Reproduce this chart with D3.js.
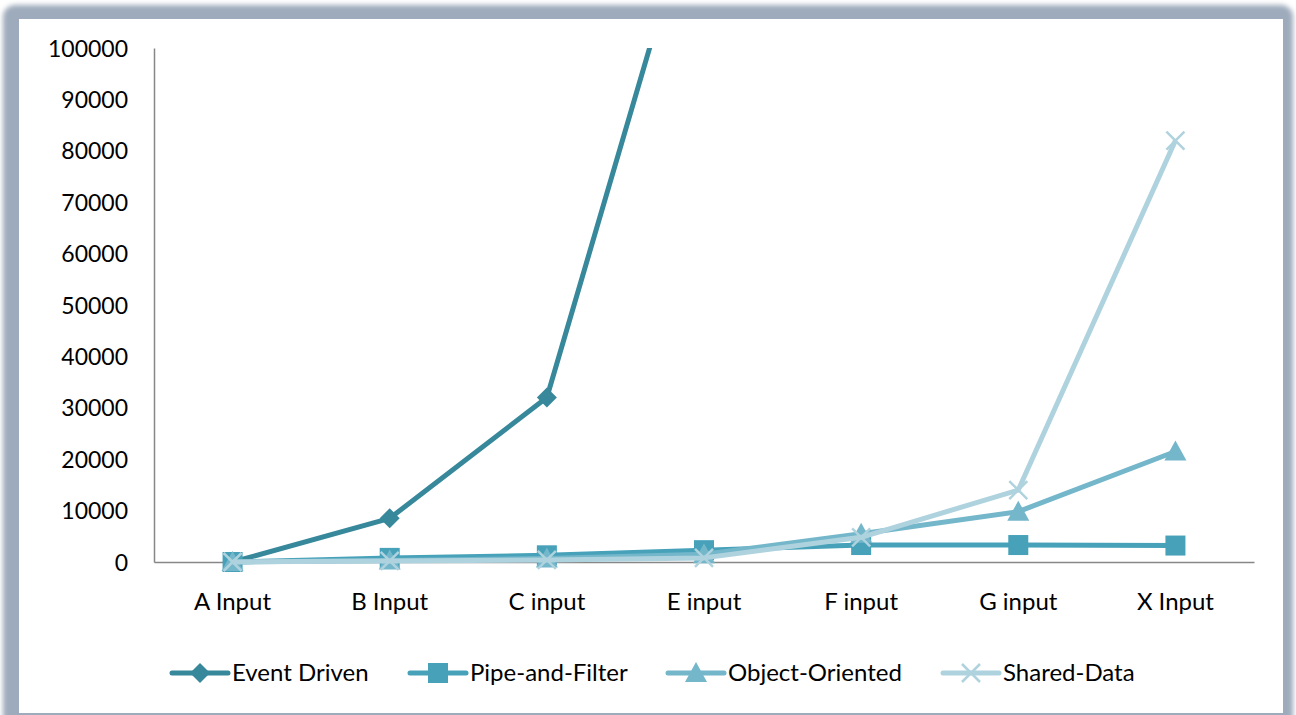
<!DOCTYPE html>
<html>
<head>
<meta charset="utf-8">
<script src="https://cdn.jsdelivr.net/npm/d3@7"></script>
<style>
    body { margin: 0; background: #ffffff; }
    svg { display: block; }
    .tick text { font-family: Lato, "Open Sans", sans-serif; font-size: 23px; fill: #000; }
    .xTicks .tick text { font-size: 24px; }
    .legend text { font-family: Lato, "Open Sans", sans-serif; font-size: 24px; fill: #000; }
</style>
</head>
<body>
<div class="vis"></div>
<script>
// chart values
var categories = ["A Input", "B Input", "C input", "E input", "F input", "G input", "X Input"];
var seriesNames = ["Event Driven", "Pipe-and-Filter", "Object-Oriented", "Shared-Data"];
// Event Driven leaves the chart after C input; later values are not visible
var eventDriven = [0, 8500, 32000, 136000, null, null, null];
var pipeAndFilter = [0, 800, 1300, 2300, 3300, 3300, 3200];
var objectOriented = [0, 300, 700, 1500, 5500, 9800, 21500];
var sharedData = [0, 200, 400, 800, 4800, 14000, 82000];
var yTicks = [0, 10000, 20000, 30000, 40000, 50000, 60000, 70000, 80000, 90000, 100000];

(function () {
    const svgWidth = 1296;
    const svgHeight = 715;

    const svg = d3.select('.vis')
        .append('svg')
            .attr('width', svgWidth)
            .attr('height', svgHeight);

    var colours = ["#37889b", "#46a1b9", "#74b6ca", "#afd3de"];
    var shapes = ["diamond", "square", "triangle", "cross"];

    var allSeries = [eventDriven, pipeAndFilter, objectOriented, sharedData];

    // frame with soft shadow
    var defs = svg.append('defs');
    defs.append('filter')
        .attr('id', 'soft')
        .attr('x', '-5%').attr('y', '-5%').attr('width', '110%').attr('height', '110%')
        .append('feGaussianBlur')
            .attr('stdDeviation', 2.5);

    svg.append('rect')
        .attr('x', 3).attr('y', 5)
        .attr('width', 1290).attr('height', 740)
        .attr('rx', 12)
        .attr('fill', '#9eabbc')
        .attr('filter', 'url(#soft)');

    svg.append('rect')
        .attr('x', 19).attr('y', 19)
        .attr('width', 1264).attr('height', 694)
        .attr('fill', '#ffffff');

    var margin = { top: 48, left: 154, right: 42, bottom: 153 };
    var innerWidth = svgWidth - margin.left - margin.right;
    var innerHeight = svgHeight - margin.top - margin.bottom;

    const graph = svg.append('g')
        .attr('transform', `translate(${margin.left}, ${margin.top})`);

    var xScale = d3.scaleBand()
        .domain(categories)
        .range([0, innerWidth]);

    var yScale = d3.scaleLinear()
        .domain([0, 100000])
        .range([innerHeight, 0]);

    // y axis
    var yAxis = d3.axisLeft(yScale)
        .tickValues(yTicks)
        .tickSize(0)
        .tickPadding(26)
        .tickFormat(d3.format('d'));

    var callyAxis = graph.append('g').call(yAxis);
    callyAxis.select('.domain').attr('stroke', '#878787').attr('stroke-width', 1.5);
    callyAxis.selectAll('.tick text').attr('dy', '0.35em');

    // x axis
    var xAxis = d3.axisBottom(xScale)
        .tickSize(0)
        .tickPadding(31);

    var callxAxis = graph.append('g')
        .attr('class', 'xTicks')
        .attr('transform', `translate(0, ${innerHeight})`)
        .call(xAxis);
    callxAxis.select('.domain').attr('stroke', '#878787').attr('stroke-width', 1.5);

    defs.append('clipPath')
        .attr('id', 'plotClip')
        .append('rect')
            .attr('x', -20).attr('y', 0)
            .attr('width', innerWidth + 40).attr('height', innerHeight + 40);

    var cx = function (i) { return xScale(categories[i]) + xScale.bandwidth() / 2; };

    var line = d3.line()
        .defined(function (d) { return d != null; })
        .x(function (d, i) { return cx(i); })
        .y(function (d) { return yScale(d); });

    // marker drawing
    function drawMarker(g, shape, x, y, colour) {
        if (shape === 'diamond') {
            g.append('path')
                .attr('d', `M${x},${y - 10}L${x + 10},${y}L${x},${y + 10}L${x - 10},${y}Z`)
                .attr('fill', colour);
        } else if (shape === 'square') {
            g.append('rect')
                .attr('x', x - 10).attr('y', y - 10)
                .attr('width', 20).attr('height', 20)
                .attr('fill', colour);
        } else if (shape === 'triangle') {
            g.append('path')
                .attr('d', `M${x},${y - 11}L${x + 11},${y + 9}L${x - 11},${y + 9}Z`)
                .attr('fill', colour);
        } else {
            g.append('path')
                .attr('d', `M${x - 9},${y - 9}L${x + 9},${y + 9}M${x - 9},${y + 9}L${x + 9},${y - 9}`)
                .attr('stroke', colour)
                .attr('stroke-width', 2.5)
                .attr('fill', 'none');
        }
    }

    var plot = graph.append('g').attr('clip-path', 'url(#plotClip)');

    allSeries.forEach(function (values, s) {
        var g = plot.append('g');
        g.append('path')
            .datum(values)
            .attr('d', line)
            .attr('fill', 'none')
            .attr('stroke', colours[s])
            .attr('stroke-width', 5)
            .attr('stroke-linejoin', 'round');
        values.forEach(function (v, i) {
            if (v == null || v > 100000) return;
            drawMarker(g, shapes[s], cx(i), yScale(v), colours[s]);
        });
    });

    // legend
    var legendX = [172, 410, 668, 943];
    var legend = svg.append('g').attr('class', 'legend');
    seriesNames.forEach(function (name, s) {
        var item = legend.append('g');
        var x0 = legendX[s];
        var yl = 673;
        item.append('line')
            .attr('x1', x0).attr('x2', x0 + 56)
            .attr('y1', yl).attr('y2', yl)
            .attr('stroke', colours[s])
            .attr('stroke-width', 5)
            .attr('stroke-linecap', 'round');
        drawMarker(item, shapes[s], x0 + 28, yl, colours[s]);
        item.append('text')
            .attr('x', x0 + 60)
            .attr('y', yl)
            .attr('dy', '0.35em')
            .text(name);
    });
} (d3));
</script>
</body>
</html>
